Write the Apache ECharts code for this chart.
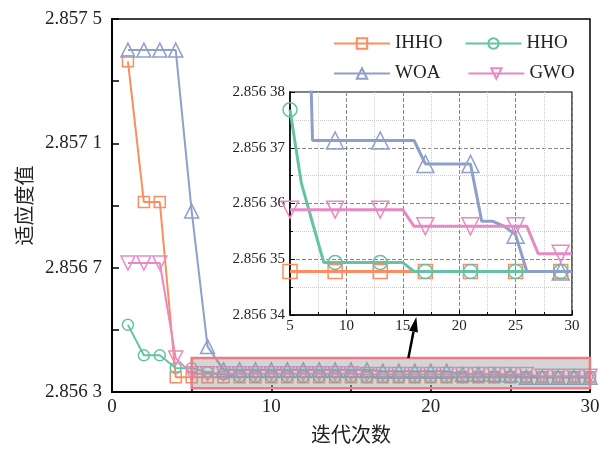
<!DOCTYPE html>
<html>
<head>
<meta charset="utf-8">
<script src="https://cdn.jsdelivr.net/npm/echarts@6/dist/echarts.min.js"></script>
<style>
html,body{margin:0;padding:0;background:#fff}
#chart{width:611px;height:449px}
</style>
</head>
<body>
<div id="chart"></div>
<script>
// iterations
const iters = [1,2,3,4,5,6,7,8,9,10,11,12,13,14,15,16,17,18,19,20,21,22,23,24,25,26,27,28,29,30];

// fitness values
const ihho = [2.857364,2.856911,2.856911,2.8563478,2.8563478,2.8563478,2.8563478,2.8563478,2.8563478,2.8563478,
  2.8563478,2.8563478,2.8563478,2.8563478,2.8563478,2.8563478,2.8563478,2.8563478,2.8563478,2.8563478,
  2.8563478,2.8563478,2.8563478,2.8563478,2.8563478,2.8563478,2.8563478,2.8563478,2.8563478,2.8563478];
const hho = [2.856516,2.856418,2.856418,2.8563770,2.8563768,2.8563637,2.8563565,2.8563494,2.8563494,2.8563494,
  2.8563494,2.8563494,2.8563494,2.8563494,2.8563494,2.8563478,2.8563478,2.8563478,2.8563478,2.8563478,
  2.8563478,2.8563478,2.8563478,2.8563478,2.8563478,2.8563478,2.8563478,2.8563478,2.8563478,2.8563478];
const woa = [2.8574,2.8574,2.8574,2.8574,2.856882,2.856446,2.8563713,2.8563713,2.8563713,2.8563713,
  2.8563713,2.8563713,2.8563713,2.8563713,2.8563713,2.8563713,2.8563671,2.8563671,2.8563671,2.8563671,
  2.8563671,2.8563568,2.8563568,2.8563559,2.8563544,2.8563478,2.8563478,2.8563478,2.8563478,2.8563478];
const gwo = [2.856715,2.856715,2.856715,2.856409,2.8563589,2.8563589,2.8563589,2.8563589,2.8563589,2.8563589,
  2.8563589,2.8563589,2.8563589,2.8563589,2.8563589,2.8563559,2.8563559,2.8563559,2.8563559,2.8563559,
  2.8563559,2.8563559,2.8563559,2.8563559,2.8563559,2.8563559,2.856351,2.856351,2.856351,2.856351];

const names = ['IHHO','HHO','WOA','GWO'];
const colors = ['#fc8d62','#66c2a5','#8da0cb','#e78ac3'];
const symbols = ['rect','circle','triangle','triangle'];
const rotates = [0,0,0,180];
const allData = [ihho,hho,woa,gwo];

// axis tick labels
const mainYLabels = [2.8563,2.8567,2.8571,2.8575];
const mainXLabels = [0,10,20,30];
const insetStart = 5;

// axis bases (values plotted as offsets so ticks start at the axis min)
const mainBase = 2.8563, mainScale = 1e4;
const insetBase = 2.85634, insetScale = 1e5;

// highlighted region and arrow
const zoomBoxX = [5,30];
const zoomBoxY = [2.856312,2.856409];
const arrowFrom = [18.6,2.856409];
const arrowTo = [16.2,2.85634];

const serif = '"Times New Roman","Liberation Serif",serif';
const cjk = '"Noto Sans CJK SC",sans-serif';

function fmt(n, d){
  const s = n.toFixed(d);
  return s.slice(0,5) + ' ' + s.slice(5);
}
const toMain = v => (v - mainBase) * mainScale;
const toInset = v => (v - insetBase) * insetScale;

const chart = echarts.init(document.getElementById('chart'));

const series = [];
allData.forEach(function(arr, i){
  series.push({
    name: names[i], type: 'line', xAxisIndex: 0, yAxisIndex: 0,
    data: arr.map((v, k) => [iters[k], toMain(v)]),
    symbol: symbols[i], symbolRotate: rotates[i],
    symbolSize: symbols[i] === 'triangle' ? 14 : 11,
    showAllSymbol: true,
    lineStyle: {color: colors[i], width: 2},
    itemStyle: {color: 'rgba(255,255,255,0)', borderColor: colors[i], borderWidth: 1.5},
    emphasis: {disabled: true},
    z: 2 + i
  });
});
allData.forEach(function(arr, i){
  const pts = [];
  arr.forEach((v, k) => { if (iters[k] >= insetStart) pts.push([iters[k], toInset(v)]); });
  series.push({
    name: names[i], type: 'line', xAxisIndex: 1, yAxisIndex: 1,
    data: pts,
    symbol: symbols[i], symbolRotate: rotates[i],
    symbolSize: function(val, p){ return p.dataIndex % 4 === 0 ? (symbols[i] === 'triangle' ? 17 : 14) : 0; },
    showAllSymbol: true,
    clip: true,
    lineStyle: {color: colors[i], width: 3},
    itemStyle: {color: 'rgba(255,255,255,0)', borderColor: colors[i], borderWidth: 1.5},
    emphasis: {disabled: true},
    z: 2 + i
  });
});

const legendText = {fontFamily: serif, fontSize: 19, color: '#222'};

chart.setOption({
  animation: false,
  backgroundColor: '#fff',
  grid: [
    {left: 112, right: 21, top: 19, bottom: 53, show: true, borderColor: '#000', borderWidth: 1.5},
    {left: 290, right: 39, top: 92, bottom: 134, show: true, borderColor: '#000', borderWidth: 1.2}
  ],
  legend: [
    {data: ['IHHO','HHO'], left: 328, top: 29, itemWidth: 56, itemHeight: 13, itemGap: 22, textStyle: legendText},
    {data: ['WOA','GWO'], left: 328, top: 59, itemWidth: 56, itemHeight: 13, itemGap: 27, textStyle: legendText}
  ],
  xAxis: [
    {
      type: 'value', gridIndex: 0, min: 0, max: 30, interval: 5,
      name: '迭代次数', nameLocation: 'middle', nameGap: 32,
      nameTextStyle: {fontFamily: cjk, fontSize: 20, color: '#222'},
      axisLine: {lineStyle: {color: '#000', width: 2}},
      axisTick: {inside: true, length: 7, lineStyle: {color: '#000', width: 1.5}},
      axisLabel: {fontFamily: serif, fontSize: 19, color: '#222', margin: 6,
        formatter: v => mainXLabels.indexOf(v) >= 0 ? String(v) : ''},
      splitLine: {show: false}
    },
    {
      type: 'value', gridIndex: 1, min: 5, max: 30, interval: 5,
      axisLine: {lineStyle: {color: '#000', width: 1.5}},
      axisTick: {inside: true, length: 5, lineStyle: {color: '#000'}},
      minorTick: {show: true, splitNumber: 2, length: 3, lineStyle: {color: '#000'}},
      axisLabel: {fontFamily: serif, fontSize: 15, color: '#222', margin: 4},
      splitLine: {show: true, lineStyle: {color: '#888', type: 'dashed', width: 1}},
      minorSplitLine: {show: true, lineStyle: {color: '#ccc', type: 'dotted', width: 1}}
    }
  ],
  yAxis: [
    {
      type: 'value', gridIndex: 0, min: 0, max: 12, interval: 2,
      name: '适应度值', nameLocation: 'middle', nameGap: 77,
      nameTextStyle: {fontFamily: cjk, fontSize: 20, color: '#222'},
      axisLine: {lineStyle: {color: '#000', width: 2}},
      axisTick: {inside: true, length: 7, lineStyle: {color: '#000', width: 1.5}},
      axisLabel: {fontFamily: serif, fontSize: 19, color: '#222', margin: 10,
        formatter: function(v){
          const real = mainBase + v / mainScale;
          return mainYLabels.some(t => Math.abs(t - real) < 1e-8) ? fmt(real, 4) : '';
        }},
      splitLine: {show: false}
    },
    {
      type: 'value', gridIndex: 1, min: 0, max: 4, interval: 1,
      axisLine: {lineStyle: {color: '#000', width: 1.5}},
      axisTick: {inside: true, length: 5, lineStyle: {color: '#000'}},
      minorTick: {show: true, splitNumber: 2, length: 3, lineStyle: {color: '#000'}},
      axisLabel: {fontFamily: serif, fontSize: 15, color: '#222', margin: 5,
        formatter: v => fmt(insetBase + v / insetScale, 5)},
      splitLine: {show: true, lineStyle: {color: '#888', type: 'dashed', width: 1}},
      minorSplitLine: {show: true, lineStyle: {color: '#ccc', type: 'dotted', width: 1}}
    }
  ],
  series: series
});

// zoom box and arrow, placed with the axes' own scales
const b0 = chart.convertToPixel({gridIndex: 0}, [zoomBoxX[0], toMain(zoomBoxY[1])]);
const b1 = chart.convertToPixel({gridIndex: 0}, [zoomBoxX[1], toMain(zoomBoxY[0])]);
const a0 = chart.convertToPixel({gridIndex: 0}, [arrowFrom[0], toMain(arrowFrom[1])]);
const a1 = chart.convertToPixel({gridIndex: 1}, [arrowTo[0], toInset(arrowTo[1])]);
a1[1] += 2;
const dx = a1[0] - a0[0], dy = a1[1] - a0[1];
const len = Math.sqrt(dx * dx + dy * dy);
const ux = dx / len, uy = dy / len;
const headLen = 15, headW = 4.5;
const baseX = a1[0] - ux * headLen, baseY = a1[1] - uy * headLen;

chart.setOption({
  graphic: [
    {type: 'rect', z: 50, silent: true,
      shape: {x: b0[0], y: b0[1], width: b1[0] - b0[0], height: b1[1] - b0[1]},
      style: {fill: 'rgba(150,150,150,0.4)', stroke: '#ee7b83', lineWidth: 2.5}},
    {type: 'line', z: 50, silent: true,
      shape: {x1: a0[0], y1: a0[1], x2: baseX, y2: baseY},
      style: {stroke: '#000', lineWidth: 2.5}},
    {type: 'polygon', z: 50, silent: true,
      shape: {points: [[a1[0], a1[1]],
        [baseX - uy * headW, baseY + ux * headW],
        [baseX + uy * headW, baseY - ux * headW]]},
      style: {fill: '#000'}}
  ]
});
</script>
</body>
</html>
